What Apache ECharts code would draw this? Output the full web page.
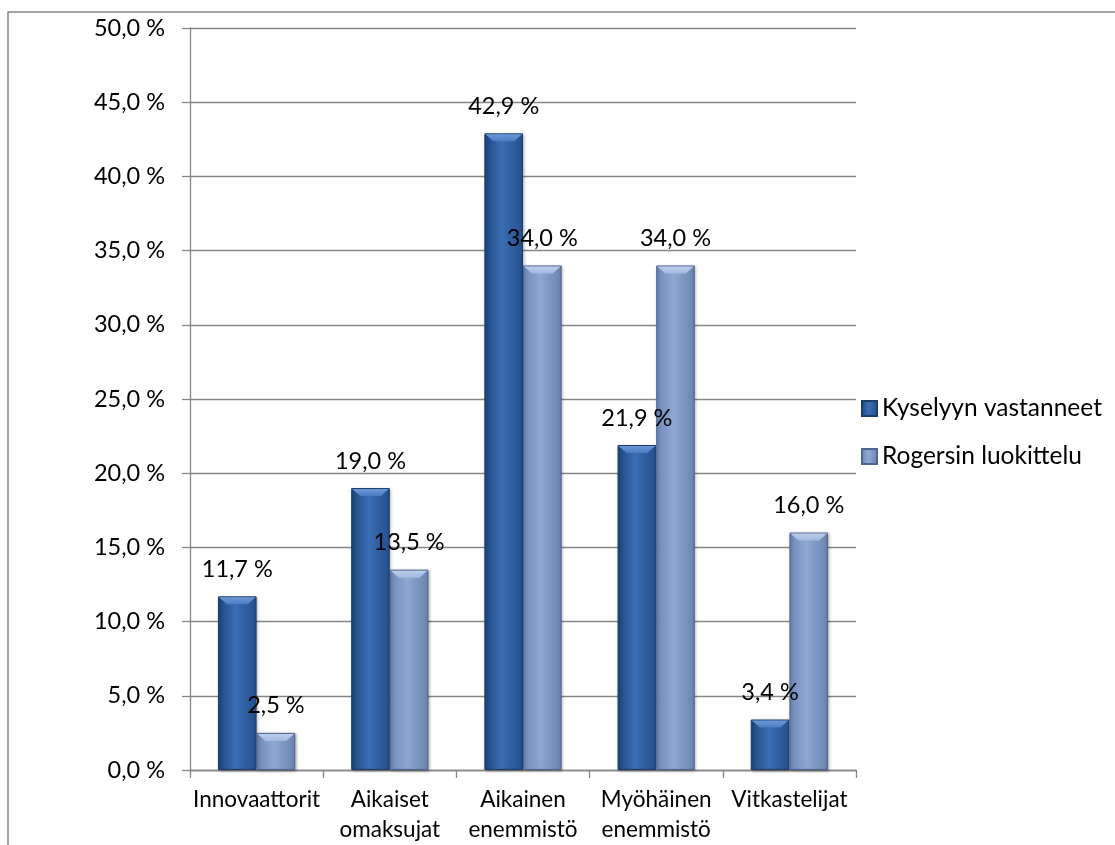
<!DOCTYPE html>
<html>
<head>
<meta charset="utf-8">
<script src="https://cdn.jsdelivr.net/npm/echarts@6/dist/echarts.min.js"></script>
<style>
html,body{margin:0;padding:0;background:#fff;}
#chart{width:1115px;height:845px;}
</style>
</head>
<body>
<div id="chart"></div>
<script>
var categories = ['Innovaattorit', 'Aikaiset\nomaksujat', 'Aikainen\nenemmistö', 'Myöhäinen\nenemmistö', 'Vitkastelijat'];
var seriesNames = ['Kyselyyn vastanneet', 'Rogersin luokittelu'];
var kyselyyn = [11.7, 19.0, 42.9, 21.9, 3.4];
var rogers = [2.5, 13.5, 34.0, 34.0, 16.0];

var FONT = 'Lato';
function pct(v) { return v.toFixed(1).replace('.', ',') + ' %'; }

var darkGrad = new echarts.graphic.LinearGradient(0, 0, 1, 0, [
  {offset: 0, color: '#1E467E'},
  {offset: 0.45, color: '#3A6DB3'},
  {offset: 1, color: '#244F8C'}
]);
var lightGrad = new echarts.graphic.LinearGradient(0, 0, 1, 0, [
  {offset: 0, color: '#7089B8'},
  {offset: 0.45, color: '#8EA8D3'},
  {offset: 1, color: '#6B82AE'}
]);
var bevelColors = ['#6C98D6', '#BACDEB'];

var labelCfg = {
  show: true,
  position: 'top',
  distance: 15,
  fontFamily: FONT,
  fontSize: 23.5,
  lineHeight: 24,
  color: '#000',
  formatter: function (p) { return pct(p.value); }
};

// bevel overlay data built from the series arrays: [category index, value, series index]
var bevelData = [];
kyselyyn.forEach(function (v, i) { bevelData.push([i, v, 0]); });
rogers.forEach(function (v, i) { bevelData.push([i, v, 1]); });

var chart = echarts.init(document.getElementById('chart'), null, {renderer: 'canvas'});
chart.setOption({
  animation: false,
  backgroundColor: '#fff',
  graphic: [{
    type: 'rect',
    shape: {x: 8, y: 12, width: 1300, height: 1000},
    style: {fill: 'none', stroke: '#868686', lineWidth: 1.5},
    silent: true,
    z: -10
  }],
  grid: {left: 190, right: 259, top: 28, bottom: 74, containLabel: false},
  legend: {
    orient: 'vertical',
    left: 861,
    top: 396,
    padding: 0,
    itemWidth: 15,
    itemHeight: 15,
    itemGap: 23,
    icon: 'rect',
    textStyle: {fontFamily: FONT, fontSize: 24.5, lineHeight: 24, color: '#000'},
    data: seriesNames
  },
  xAxis: {
    type: 'category',
    data: categories,
    axisLine: {lineStyle: {color: '#868686', width: 1.3}},
    axisTick: {show: true, length: 8, lineStyle: {color: '#868686', width: 1.3}},
    axisLabel: {fontFamily: FONT, fontSize: 22.5, lineHeight: 30, color: '#000', margin: 15, interval: 0}
  },
  yAxis: {
    type: 'value',
    min: 0,
    max: 50,
    interval: 5,
    axisLine: {show: true, lineStyle: {color: '#868686', width: 1.3}},
    axisTick: {show: true, length: 8, lineStyle: {color: '#868686', width: 1.3}},
    splitLine: {show: true, lineStyle: {color: '#868686', width: 1.3}},
    axisLabel: {fontFamily: FONT, fontSize: 23.5, color: '#000', margin: 25, formatter: function (v) { return pct(v); }}
  },
  series: [
    {
      name: seriesNames[0],
      type: 'bar',
      data: kyselyyn,
      barGap: '0%',
      barCategoryGap: '42%',
      itemStyle: {color: darkGrad, borderColor: '#1B3D6C', borderWidth: 1, shadowColor: 'rgba(0,0,0,0.3)', shadowBlur: 3, shadowOffsetX: 1, shadowOffsetY: 1},
      label: labelCfg
    },
    {
      name: seriesNames[1],
      type: 'bar',
      data: rogers,
      barGap: '0%',
      barCategoryGap: '42%',
      itemStyle: {color: lightGrad, borderColor: '#4F6690', borderWidth: 1, shadowColor: 'rgba(0,0,0,0.3)', shadowBlur: 3, shadowOffsetX: 1, shadowOffsetY: 1},
      label: labelCfg
    },
    {
      name: 'bevel',
      type: 'custom',
      data: bevelData,
      encode: {x: 0, y: 1},
      z: 5,
      silent: true,
      renderItem: function (params, api) {
        var cat = api.value(0), v = api.value(1), s = api.value(2);
        var top = api.coord([cat, v]);
        var base = api.coord([cat, 0]);
        var band = api.size([1, 0])[0];
        var bw = band * 0.58 / 2;
        var x0 = top[0] - bw + s * bw;
        var y = top[1];
        var b = Math.min(8, (base[1] - y) / 2);
        return {
          type: 'polygon',
          shape: {points: [[x0 + 1, y + 1], [x0 + bw - 1, y + 1], [x0 + bw - 1 - b, y + b], [x0 + 1 + b, y + b]]},
          style: {
            fill: new echarts.graphic.LinearGradient(0, 0, 0, 1, [
              {offset: 0, color: bevelColors[s]},
              {offset: 1, color: s === 0 ? '#4A7CC2' : '#A3B9DF'}
            ])
          }
        };
      }
    }
  ]
});
</script>
</body>
</html>
